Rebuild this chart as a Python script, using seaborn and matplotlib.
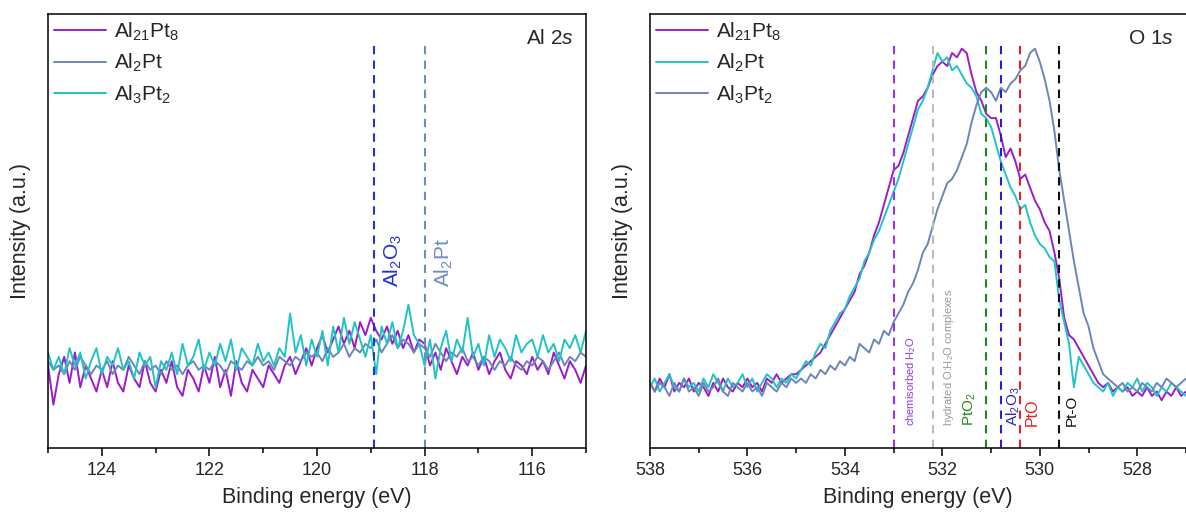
import numpy as np
import seaborn as sns
import matplotlib.pyplot as plt
from matplotlib.ticker import MultipleLocator

# energy grids (eV), 0.1 eV steps
al_energy = np.round(np.arange(125.0, 114.95, -0.1), 1)
o_energy = np.round(np.arange(538.0, 526.95, -0.1), 1)

# Al 2s spectra (a.u.), 125.0 -> 115.0 eV
al_21_8 = [0.19, 0.10, 0.17, 0.21, 0.15, 0.22, 0.14, 0.19, 0.16, 0.13,
           0.18, 0.14, 0.20, 0.15, 0.13, 0.19, 0.16, 0.14, 0.20, 0.15,
           0.13, 0.18, 0.15, 0.20, 0.14, 0.12, 0.18, 0.16, 0.13, 0.19,
           0.15, 0.21, 0.14, 0.18, 0.12, 0.20, 0.15, 0.13, 0.18, 0.16,
           0.14, 0.19, 0.17, 0.15, 0.19, 0.21, 0.17, 0.20, 0.23, 0.19,
           0.23, 0.26, 0.22, 0.25, 0.28, 0.24, 0.27, 0.23, 0.29, 0.26,
           0.30, 0.27, 0.25, 0.28, 0.24, 0.27, 0.23, 0.26, 0.22, 0.25,
           0.24, 0.19, 0.22, 0.18, 0.23, 0.20, 0.17, 0.21, 0.19, 0.22,
           0.18, 0.21, 0.17, 0.20, 0.22, 0.18, 0.16, 0.20, 0.19, 0.17,
           0.21, 0.18, 0.20, 0.17, 0.22, 0.19, 0.16, 0.20, 0.18, 0.15,
           0.19]
al_2_1 = [0.20, 0.18, 0.19, 0.17, 0.20, 0.18, 0.21, 0.19, 0.17, 0.19,
          0.18, 0.20, 0.17, 0.19, 0.18, 0.21, 0.19, 0.17, 0.20, 0.18,
          0.19, 0.17, 0.20, 0.18, 0.19, 0.17, 0.19, 0.20, 0.18, 0.19,
          0.18, 0.20, 0.19, 0.17, 0.20, 0.19, 0.18, 0.20, 0.19, 0.21,
          0.19, 0.20, 0.18, 0.21, 0.20, 0.19, 0.21, 0.20, 0.22, 0.21,
          0.22, 0.20, 0.23, 0.21, 0.22, 0.24, 0.21, 0.23, 0.22, 0.24,
          0.23, 0.25, 0.22, 0.24, 0.26, 0.23, 0.25, 0.24, 0.22, 0.24,
          0.23, 0.21, 0.24, 0.22, 0.20, 0.22, 0.21, 0.23, 0.20, 0.21,
          0.19, 0.21, 0.20, 0.18, 0.20, 0.19, 0.21, 0.19, 0.18, 0.20,
          0.19, 0.21, 0.20, 0.18, 0.20, 0.22, 0.19, 0.21, 0.20, 0.22,
          0.21]
al_3_2 = [0.22, 0.18, 0.21, 0.17, 0.23, 0.19, 0.22, 0.16, 0.20, 0.23,
          0.17, 0.21, 0.19, 0.23, 0.18, 0.20, 0.16, 0.22, 0.19, 0.21,
          0.14, 0.20, 0.18, 0.22, 0.17, 0.24, 0.19, 0.21, 0.25, 0.18,
          0.22, 0.19, 0.24, 0.20, 0.25, 0.18, 0.23, 0.21, 0.19, 0.24,
          0.20, 0.22, 0.19, 0.23, 0.21, 0.31, 0.22, 0.26, 0.19, 0.25,
          0.21, 0.27, 0.19, 0.28, 0.22, 0.30, 0.24, 0.29, 0.25, 0.21,
          0.26, 0.17, 0.28, 0.24, 0.29, 0.23, 0.27, 0.33, 0.26, 0.24,
          0.19, 0.25, 0.16, 0.23, 0.27, 0.20, 0.25, 0.22, 0.30, 0.21,
          0.24, 0.19, 0.26, 0.21, 0.25, 0.23, 0.20, 0.26, 0.22, 0.24,
          0.25, 0.21, 0.26, 0.22, 0.24, 0.20, 0.25, 0.23, 0.26, 0.22,
          0.27]

# O 1s spectra (a.u.), 538.0 -> 527.0 eV
o_21_8 = [0.15, 0.13, 0.16, 0.14, 0.17, 0.13, 0.15, 0.14, 0.16, 0.13,
          0.15, 0.14, 0.12, 0.15, 0.13, 0.16, 0.14, 0.13, 0.15, 0.14,
          0.16, 0.14, 0.15, 0.13, 0.16, 0.15, 0.17, 0.15, 0.16, 0.17,
          0.17, 0.18, 0.19, 0.20, 0.21, 0.22, 0.24, 0.26, 0.28, 0.30,
          0.32, 0.34, 0.36, 0.40, 0.42, 0.45, 0.49, 0.52, 0.56, 0.60,
          0.64, 0.65, 0.68, 0.72, 0.76, 0.80, 0.81, 0.83, 0.86, 0.88,
          0.89, 0.88, 0.91, 0.90, 0.92, 0.91, 0.86, 0.82, 0.80, 0.77,
          0.76, 0.76, 0.72, 0.67, 0.69, 0.66, 0.62, 0.63, 0.60, 0.57,
          0.55, 0.52, 0.50, 0.45, 0.39, 0.30, 0.26, 0.25, 0.23, 0.21,
          0.19, 0.17, 0.15, 0.14, 0.15, 0.13, 0.14, 0.13, 0.14, 0.12,
          0.13, 0.12, 0.14, 0.12, 0.13, 0.11, 0.13, 0.12, 0.14, 0.12,
          0.13]
o_2_1 = [0.14, 0.16, 0.13, 0.15, 0.17, 0.14, 0.13, 0.16, 0.14, 0.15,
         0.13, 0.16, 0.14, 0.17, 0.15, 0.13, 0.16, 0.14, 0.15, 0.17,
         0.14, 0.16, 0.13, 0.15, 0.17, 0.16, 0.14, 0.16, 0.15, 0.17,
         0.16, 0.18, 0.20, 0.19, 0.22, 0.24, 0.23, 0.27, 0.29, 0.31,
         0.32, 0.35, 0.37, 0.39, 0.43, 0.45, 0.48, 0.50, 0.53, 0.56,
         0.59, 0.62, 0.66, 0.70, 0.74, 0.78, 0.80, 0.83, 0.87, 0.91,
         0.89, 0.90, 0.87, 0.88, 0.86, 0.84, 0.83, 0.81, 0.77, 0.76,
         0.74, 0.70, 0.66, 0.63, 0.60, 0.58, 0.55, 0.56, 0.52, 0.49,
         0.47, 0.46, 0.44, 0.43, 0.34, 0.29, 0.24, 0.14, 0.21, 0.19,
         0.17, 0.15, 0.14, 0.13, 0.15, 0.12, 0.14, 0.13, 0.15, 0.14,
         0.16, 0.13, 0.15, 0.14, 0.12, 0.14, 0.13, 0.15, 0.14, 0.13,
         0.12]
o_3_2 = [0.15, 0.13, 0.15, 0.14, 0.12, 0.15, 0.13, 0.16, 0.13, 0.14,
         0.12, 0.15, 0.13, 0.14, 0.16, 0.13, 0.12, 0.15, 0.14, 0.13,
         0.15, 0.13, 0.14, 0.12, 0.15, 0.14, 0.13, 0.15, 0.14, 0.16,
         0.15, 0.16, 0.15, 0.17, 0.16, 0.18, 0.17, 0.19, 0.18, 0.20,
         0.19, 0.21, 0.20, 0.24, 0.23, 0.22, 0.25, 0.24, 0.27, 0.26,
         0.29, 0.31, 0.33, 0.36, 0.38, 0.41, 0.45, 0.47, 0.51, 0.55,
         0.58, 0.61, 0.62, 0.64, 0.67, 0.70, 0.75, 0.79, 0.82, 0.83,
         0.82, 0.80, 0.83, 0.82, 0.84, 0.85, 0.87, 0.88, 0.91, 0.92,
         0.89, 0.85, 0.80, 0.73, 0.64, 0.57, 0.50, 0.43, 0.37, 0.31,
         0.28, 0.23, 0.20, 0.17, 0.16, 0.15, 0.14, 0.15, 0.13, 0.14,
         0.13, 0.15, 0.14, 0.13, 0.15, 0.14, 0.16, 0.15, 0.14, 0.15,
         0.16]

names = [r'Al$_{21}$Pt$_{8}$', r'Al$_{2}$Pt', r'Al$_{3}$Pt$_{2}$']
purple, slate, cyan = '#9A1CCB', '#6C86B8', '#22C3C6'

# reference binding energies
al_refs = [118.95, 118.0]
al_ref_labels = [r'Al$_{2}$O$_{3}$', r'Al$_{2}$Pt']
al_ref_colors = ['#2432D6', '#6F8CC0']

o_refs = [533.0, 532.2, 531.1, 530.8, 530.4, 529.6]
o_ref_labels = [r'chemisorbed H$_{2}$O', r'hydrated O:H$_{2}$O complexes',
                r'PtO$_{2}$', r'Al$_{2}$O$_{3}$', 'PtO', 'Pt-O']
o_ref_colors = ['#9933EE', '#BBBBBB', '#1E8A1E', '#2424C4', '#E42222', '#111111']
o_text_colors = ['#9933EE', '#9A9A9A', '#1E8A1E', '#2424C4', '#E42222', '#111111']

sns.set_style('ticks')
plt.rcParams['font.family'] = ['Liberation Sans', 'DejaVu Sans']
plt.rcParams['mathtext.fontset'] = 'custom'
plt.rcParams['mathtext.rm'] = 'Liberation Sans'
plt.rcParams['mathtext.it'] = 'Liberation Sans:italic'
plt.rcParams['mathtext.bf'] = 'Liberation Sans:bold'

fig = plt.figure(figsize=(11.86, 5.17), dpi=100)
ax1 = fig.add_axes([0.0405, 0.1335, 0.4536, 0.8395])
ax2 = fig.add_axes([0.548, 0.1335, 0.452, 0.8395])

# left: Al 2s
for vals, name, col in zip([al_21_8, al_2_1, al_3_2], names, [purple, slate, cyan]):
    sns.lineplot(x=al_energy, y=vals, color=col, lw=1.4, label=name, ax=ax1)
for e, lab, col in zip(al_refs, al_ref_labels, al_ref_colors):
    ax1.axvline(e, ymin=0, ymax=0.94, color=col, lw=1.5, ls=(0, (4, 3)))
    ax1.text(e - 0.15, 0.37, lab, rotation=90, color=col, fontsize=15,
             ha='left', va='bottom')
ax1.set_xlim(125, 115)
ax1.xaxis.set_major_locator(MultipleLocator(2))
ax1.xaxis.set_minor_locator(MultipleLocator(1))
ax1.text(0.978, 0.965, 'Al 2$s$', transform=ax1.transAxes, ha='right', va='top', fontsize=15)

# right: O 1s (note legend colours swap here)
for vals, name, col in zip([o_21_8, o_2_1, o_3_2], names, [purple, cyan, slate]):
    sns.lineplot(x=o_energy, y=vals, color=col, lw=1.4, label=name, ax=ax2)
text_dx = [0.22, 0.2, -0.5, 0.08, 0.1, 0.12]
text_size = [8, 8, 11, 11, 11.5, 11]
for e, lab, col, tcol, dx, fs in zip(o_refs, o_ref_labels, o_ref_colors,
                                     o_text_colors, text_dx, text_size):
    ax2.axvline(e, ymin=0, ymax=0.94, color=col, lw=1.5, ls=(0, (4, 3)))
    ax2.text(e - dx, 0.05, lab, rotation=90, color=tcol, fontsize=fs,
             ha='left', va='bottom')
ax2.set_xlim(538, 527)
ax2.xaxis.set_major_locator(MultipleLocator(2))
ax2.xaxis.set_minor_locator(MultipleLocator(1))
ax2.text(0.977, 0.965, 'O 1$s$', transform=ax2.transAxes, ha='right', va='top', fontsize=15)
ax2.spines['right'].set_visible(False)

for ax in [ax1, ax2]:
    ax.set_ylim(0, 1)
    ax.set_yticks([])
    ax.set_xlabel('Binding energy (eV)', fontsize=15.5, labelpad=6)
    ax.set_ylabel('Intensity (a.u.)', fontsize=15.5, labelpad=12)
    ax.tick_params(axis='x', which='major', direction='out', length=6, width=1.1,
                   labelsize=13, pad=4, color='black')
    ax.tick_params(axis='x', which='minor', direction='out', length=3.5, width=1.1,
                   color='black')
    for s in ax.spines.values():
        s.set_linewidth(1.1)
        s.set_color('black')
    ax.legend(loc='upper left', frameon=False, fontsize=15, handlelength=2.5,
              handletextpad=0.35, labelspacing=0.45, borderaxespad=0.15, borderpad=0.15)

plt.savefig('out.png', dpi=100)
